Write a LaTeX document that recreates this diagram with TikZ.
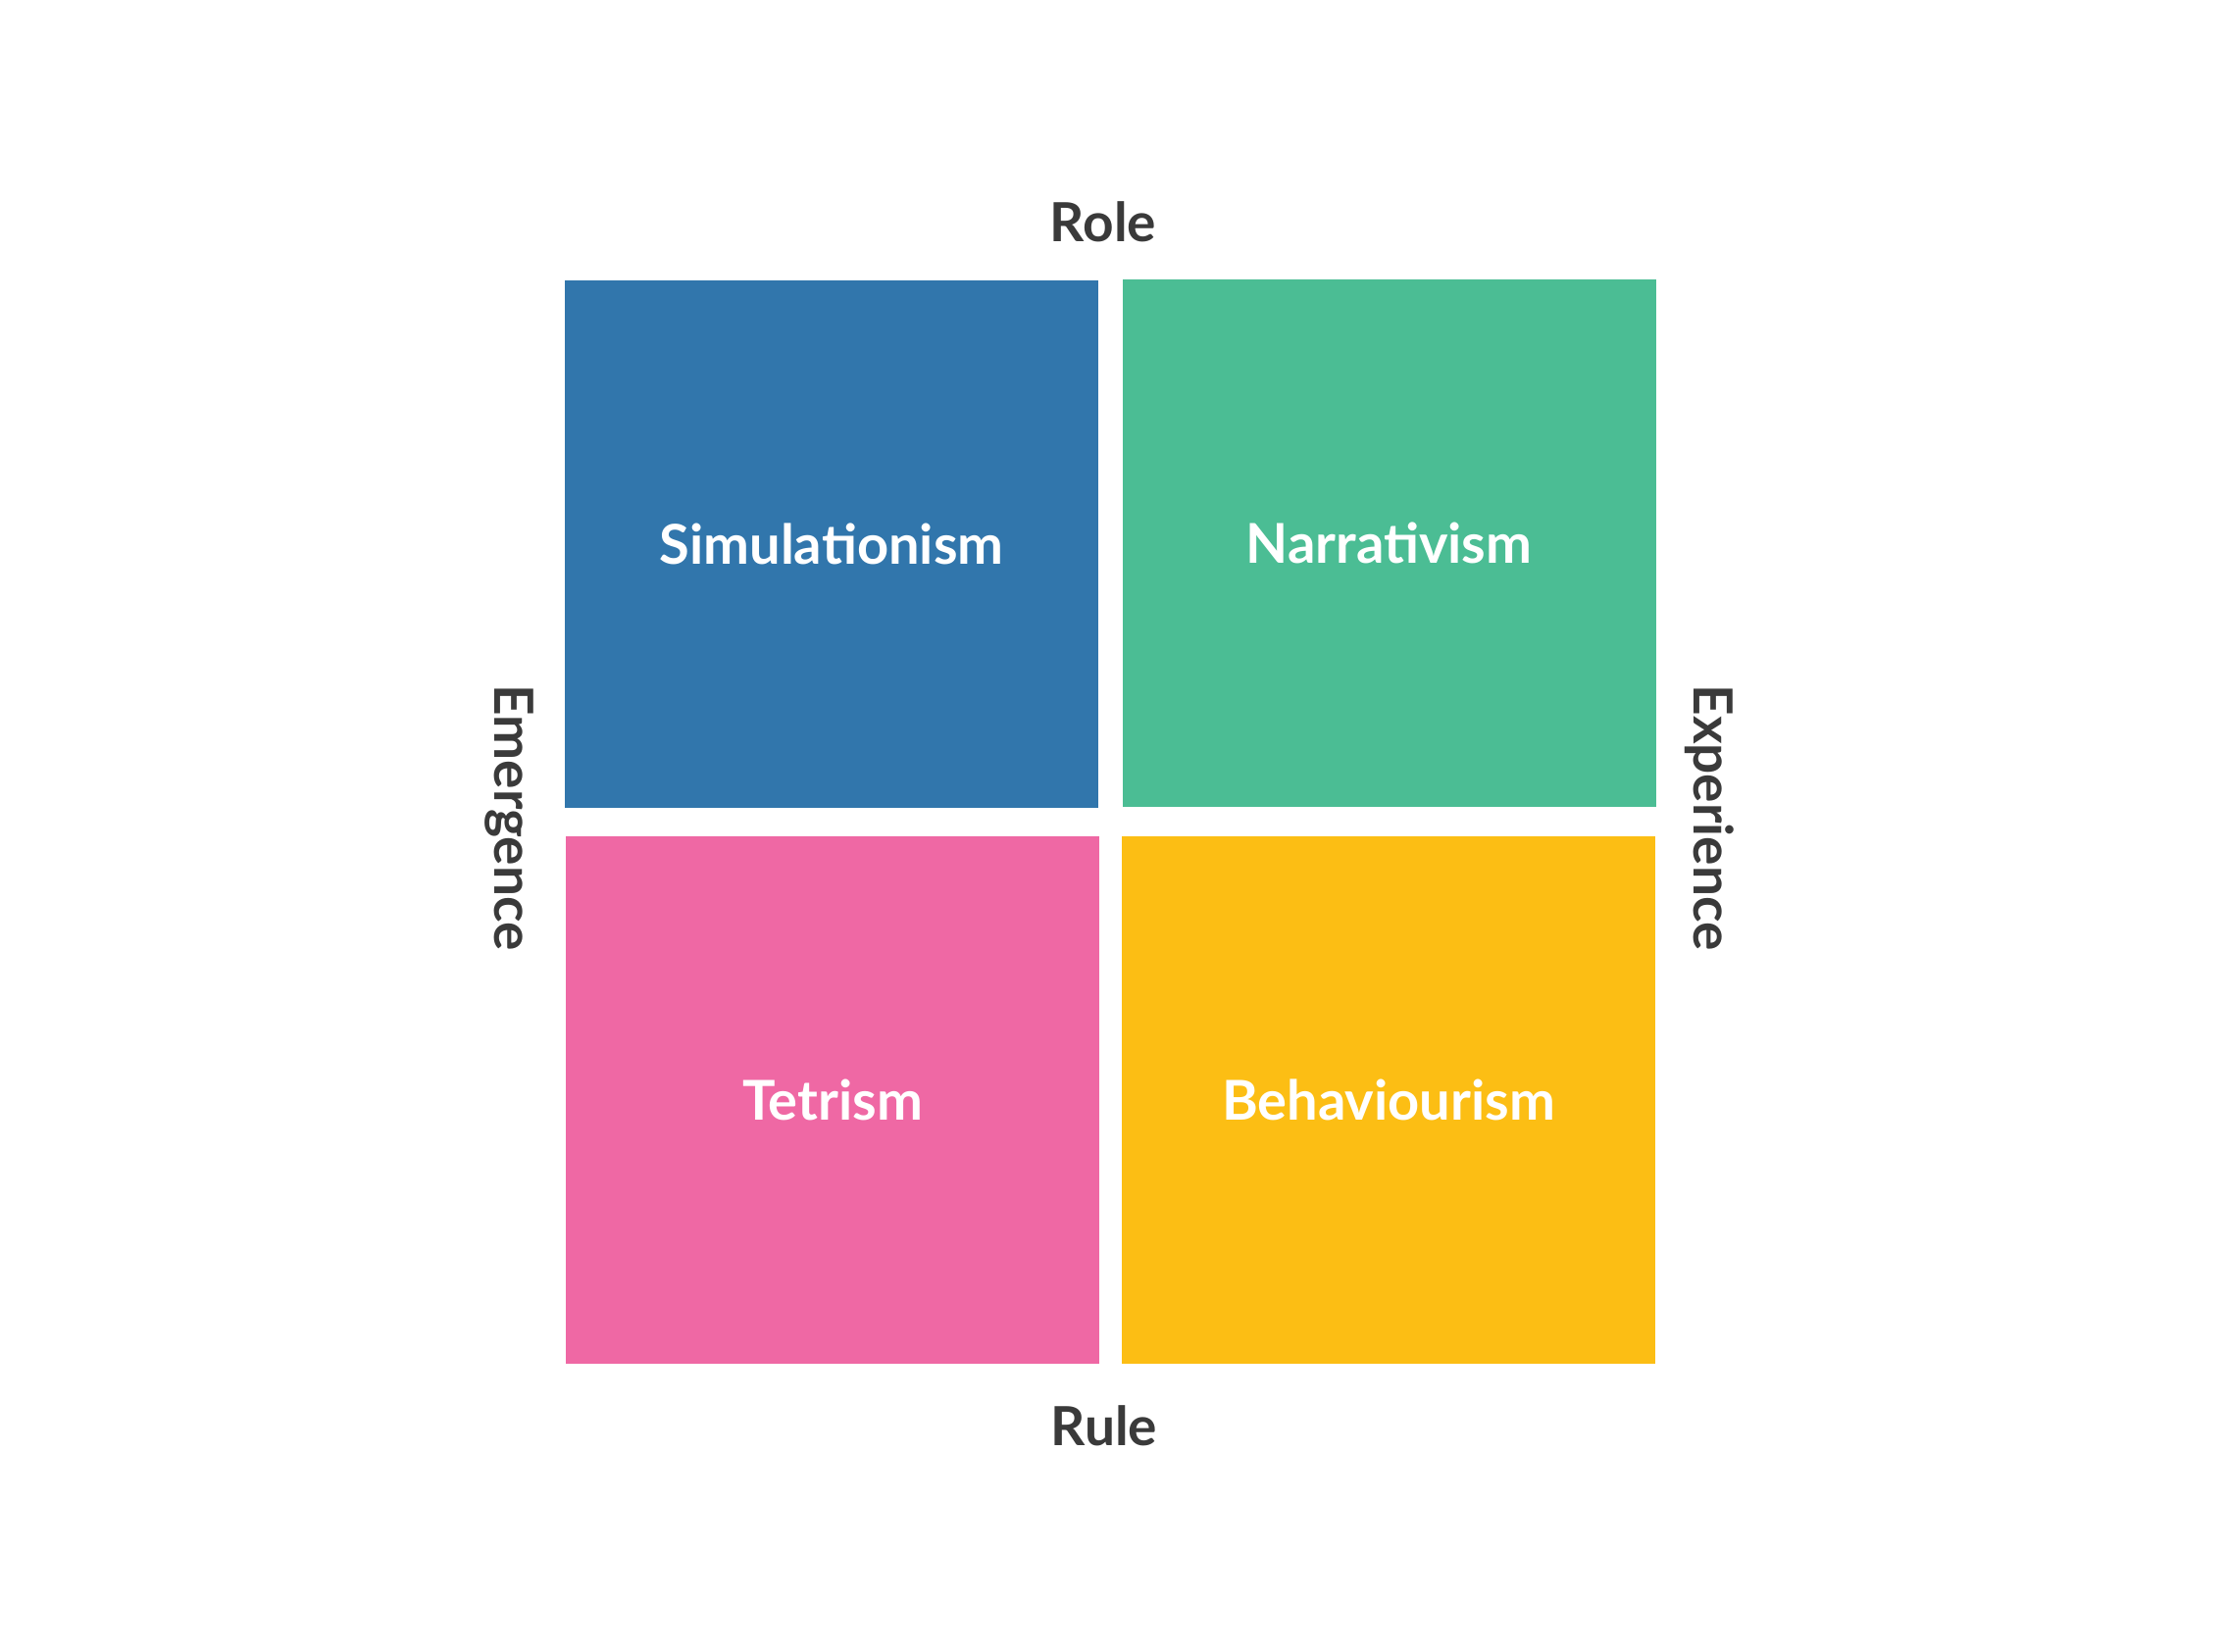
\documentclass[tikz,border=0pt]{standalone}
\usepackage{fontspec}
\setmainfont{Lato}
\usepackage{xcolor}

\definecolor{simblue}{HTML}{3176AC}
\definecolor{nargreen}{HTML}{4BBD94}
\definecolor{tetpink}{HTML}{EF68A4}
\definecolor{behyellow}{HTML}{FCBE14}
\definecolor{axisgray}{HTML}{3A3A3A}

\begin{document}
\begin{tikzpicture}[x=1pt, y=-1pt,
		quad/.style={minimum width=544pt, minimum height=538pt, inner sep=0pt, text=white,
			font=\fontsize{56}{62}\selectfont\bfseries},
		axis/.style={text=axisgray, font=\fontsize{55}{60}\selectfont\bfseries, inner sep=0pt}]
		\fill[white] (0,0) rectangle (2269,1685);

		\node[quad, fill=simblue] (sim) at (848,555) {Simulationism};
		\node[quad, fill=nargreen] (nar) at (1416.5,554) {Narrativism};
		\node[quad, fill=tetpink] (tet) at (849,1122) {Tetrism};
		\node[quad, fill=behyellow] (beh) at (1416,1122) {Behaviourism};

		\node[axis] (role) at (1125,226) {Role};
		\node[axis] (rule) at (1126,1454) {Rule};
		\node[axis, rotate=-90] (emerg) at (519,834) {Emergence};
		\node[axis, rotate=-90] (exper) at (1743,834) {Experience};
	\end{tikzpicture}
\end{document}
